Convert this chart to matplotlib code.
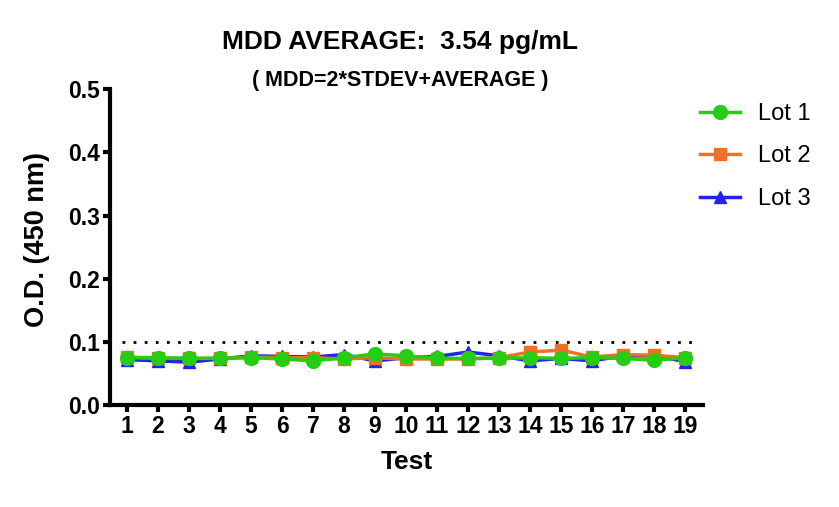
import numpy as np
import matplotlib.pyplot as plt

tests = list(range(1, 20))
lot1 = [0.075, 0.075, 0.074, 0.074, 0.075, 0.073, 0.070, 0.075, 0.081, 0.078,
        0.074, 0.074, 0.074, 0.075, 0.074, 0.075, 0.074, 0.071, 0.075]
lot2 = [0.076, 0.074, 0.074, 0.074, 0.076, 0.075, 0.075, 0.073, 0.075, 0.073,
        0.073, 0.073, 0.075, 0.084, 0.087, 0.076, 0.080, 0.079, 0.075]
lot3 = [0.072, 0.070, 0.068, 0.073, 0.078, 0.077, 0.076, 0.080, 0.070, 0.075,
        0.077, 0.084, 0.078, 0.070, 0.074, 0.070, 0.078, 0.078, 0.069]
mdd_line = 0.1

plt.rcParams['font.family'] = ['Liberation Sans', 'DejaVu Sans']

fig = plt.figure(figsize=(8.39, 5.07), dpi=100)
ax = fig.add_axes([0.131, 0.201, 0.707, 0.623])

ax.plot(tests, lot3, color='#2323EE', marker='^', markersize=9, lw=2.5, label='Lot 3', zorder=3)
ax.plot(tests, lot2, color='#F07124', marker='s', markersize=9, lw=2.5, label='Lot 2', zorder=4)
ax.plot(tests, lot1, color='#27CC14', marker='o', markersize=10, lw=2.5, label='Lot 1', zorder=5)
ax.axhline(mdd_line, xmin=0.02, xmax=0.99, color='black', ls=(0, (1, 3)), lw=2, zorder=2)

ax.set_xlim(0.45, 19.58)
ax.set_ylim(0, 0.5)
ax.set_xticks(tests)
ax.set_yticks([0.0, 0.1, 0.2, 0.3, 0.4, 0.5])
ax.set_yticklabels(['0.0', '0.1', '0.2', '0.3', '0.4', '0.5'])
for s in ['top', 'right']:
    ax.spines[s].set_visible(False)
for s in ['left', 'bottom']:
    ax.spines[s].set_linewidth(3)
ax.tick_params(width=3, length=5, labelsize=16.5, pad=2)
for lab in ax.get_xticklabels() + ax.get_yticklabels():
    lab.set_fontweight('bold')

ax.set_xlabel('Test', fontsize=19, fontweight='bold', labelpad=9)
ax.set_ylabel('O.D. (450 nm)', fontsize=19.5, fontweight='bold')
ax.yaxis.set_label_coords(-0.101, 0.525)

fig.text(0.477, 0.918, 'MDD AVERAGE:  3.54 pg/mL', ha='center', va='center',
         fontsize=19, fontweight='bold')
fig.text(0.477, 0.841, '( MDD=2*STDEV+AVERAGE )', ha='center', va='center',
         fontsize=15.5, fontweight='bold')

h, l = ax.get_legend_handles_labels()
fig.legend(h[::-1], l[::-1], loc='upper left', bbox_to_anchor=(0.834, 0.797),
           frameon=False, fontsize=17, handlelength=1.7, handletextpad=0.75,
           labelspacing=0.87, borderpad=0, borderaxespad=0)

fig.savefig('out.png', dpi=100)
